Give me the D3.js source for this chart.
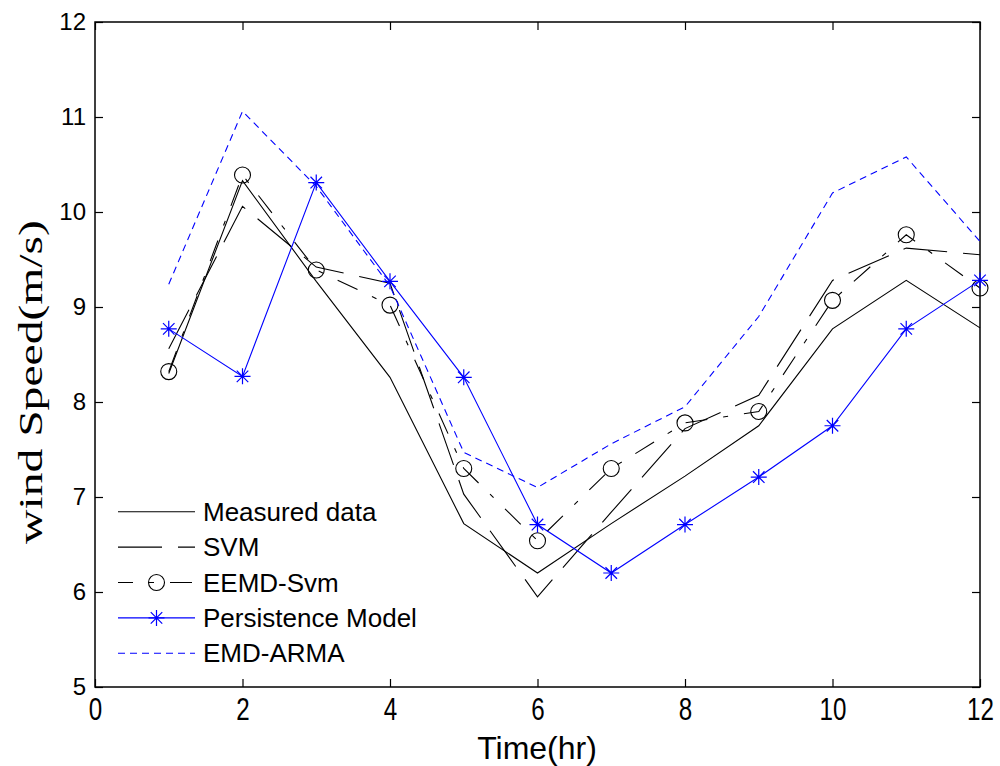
<!DOCTYPE html>
<head>
  <meta charset="utf-8">
  <style>
  body { margin: 0; background: #fff; }
  .axis line { stroke: #000; stroke-width: 1.2px; }
  .axis path { display: none; }
  .axis text { font-family: "Liberation Sans", Arial, sans-serif; fill: #000; }
  .frame { fill: none; stroke: #000; stroke-width: 1.5px; }
  </style>
  <script src="https://d3js.org/d3.v7.min.js"></script>
</head>
<body>
  <svg width="1000" height="766"></svg>
  <script>

  // values
  var hours = [1, 2, 3, 4, 5, 6, 7, 8, 9, 10, 11, 12];
  var measured    = [8.30, 10.33, 9.27, 8.26, 6.72, 6.20, 6.72, 7.22, 7.75, 8.77, 9.28, 8.78];
  var svmPred     = [8.56, 10.06, 9.42, 9.25, 7.03, 5.95, 6.84, 7.72, 8.07, 9.28, 9.62, 9.55];
  var eemdSvm     = [8.32, 10.39, 9.39, 9.02, 7.30, 6.54, 7.30, 7.78, 7.90, 9.07, 9.76, 9.20];
  var persistence = [8.77, 8.27, 10.31, 9.27, 8.26, 6.71, 6.20, 6.71, 7.21, 7.75, 8.77, 9.28];
  var emdArma     = [9.24, 11.06, 10.27, 9.22, 7.47, 7.10, 7.56, 7.95, 8.90, 10.20, 10.58, 9.69];

  var xTicks = [0, 2, 4, 6, 8, 10, 12];
  var yTicks = [5, 6, 7, 8, 9, 10, 11, 12];
  var names = ["Measured data", "SVM", "EEMD-Svm", "Persistence Model", "EMD-ARMA"];

  var series = [
    { name: names[0], values: measured,    color: "#000", dash: null,           marker: null },
    { name: names[1], values: svmPred,     color: "#000", dash: "44,16",        marker: null },
    { name: names[2], values: eemdSvm,     color: "#000", dash: "22,16,5,16",   marker: "circle" },
    { name: names[3], values: persistence, color: "#00f", dash: null,           marker: "star" },
    { name: names[4], values: emdArma,     color: "#00f", dash: "7,5",          marker: null }
  ];

  var svg = d3.select("svg"),
  plotLeft = 95, plotRight = 980, plotTop = 22, plotBottom = 687;

  var x = d3.scaleLinear().domain([0, 12]).range([plotLeft, plotRight]);
  var y = d3.scaleLinear().domain([5, 12]).range([plotBottom, plotTop]);

  // axes, ticks pointing inward on all four sides
  var xAxis = svg.append("g")
  .attr("class", "axis")
  .attr("transform", "translate(0," + plotBottom + ")")
  .call(d3.axisBottom(x).tickValues(xTicks).tickSizeInner(-8).tickSizeOuter(0).tickFormat(d3.format("d")));

  xAxis.selectAll("text")
  .attr("y", 33)
  .attr("dy", null)
  .style("font-size", "31px")
  .attr("transform", "scale(0.78,1)");

  svg.append("g")
  .attr("class", "axis")
  .attr("transform", "translate(0," + plotTop + ")")
  .call(d3.axisTop(x).tickValues(xTicks).tickSizeInner(-8).tickSizeOuter(0).tickFormat(""));

  svg.append("g")
  .attr("class", "axis")
  .attr("transform", "translate(" + plotLeft + ",0)")
  .call(d3.axisLeft(y).tickValues(yTicks).tickSizeInner(-8).tickSizeOuter(0).tickPadding(9).tickFormat(d3.format("d")))
  .selectAll("text")
  .style("font-size", "24px");

  svg.append("g")
  .attr("class", "axis")
  .attr("transform", "translate(" + plotRight + ",0)")
  .call(d3.axisRight(y).tickValues(yTicks).tickSizeInner(-8).tickSizeOuter(0).tickFormat(""));

  svg.append("rect")
  .attr("class", "frame")
  .attr("x", plotLeft)
  .attr("y", plotTop)
  .attr("width", plotRight - plotLeft)
  .attr("height", plotBottom - plotTop);

  // axis titles
  svg.append("text")
  .attr("transform", "translate(537,759)")
  .attr("text-anchor", "middle")
  .style("font-family", "'Liberation Sans', Arial, sans-serif")
  .style("font-size", "32px")
  .text("Time(hr)");

  svg.append("text")
  .attr("transform", "translate(42,382) rotate(-90) scale(1.4,1)")
  .attr("text-anchor", "middle")
  .style("font-family", "'Liberation Serif', 'Times New Roman', serif")
  .style("font-size", "34px")
  .text("wind Speed(m/s)");

  // asterisk marker: plus + cross
  function starPath(r) {
    var d = r * 0.72;
    return "M0," + (-r) + "V" + r + "M" + (-r) + ",0H" + r +
      "M" + (-d) + "," + (-d) + "L" + d + "," + d +
      "M" + (-d) + "," + d + "L" + d + "," + (-d);
  }

  var line = d3.line()
  .x(function(d, i) { return x(hours[i]); })
  .y(function(d) { return y(d); });

  var plot = svg.append("g");

  series.forEach(function(s) {
    plot.append("path")
    .attr("d", line(s.values))
    .attr("fill", "none")
    .attr("stroke", s.color)
    .attr("stroke-width", 1.1)
    .attr("stroke-dasharray", s.dash);

    if (s.marker == "circle") {
      plot.selectAll(null)
      .data(s.values)
      .enter().append("circle")
      .attr("cx", function(d, i) { return x(hours[i]); })
      .attr("cy", function(d) { return y(d); })
      .attr("r", 8)
      .attr("fill", "none")
      .attr("stroke", s.color)
      .attr("stroke-width", 1.1);
    }
    if (s.marker == "star") {
      plot.selectAll(null)
      .data(s.values)
      .enter().append("path")
      .attr("transform", function(d, i) { return "translate(" + x(hours[i]) + "," + y(d) + ")"; })
      .attr("d", starPath(8))
      .attr("fill", "none")
      .attr("stroke", s.color)
      .attr("stroke-width", 1.2);
    }
  });

  // legend, no box
  var legend = svg.append("g")
  .selectAll("g")
  .data(series)
  .enter().append("g")
  .attr("transform", function(d, i) { return "translate(0," + (511.7 + i * 35.4) + ")"; });

  legend.append("line")
  .attr("x1", 118)
  .attr("x2", 195)
  .attr("stroke", function(d) { return d.color; })
  .attr("stroke-width", 1.1)
  .attr("stroke-dasharray", function(d) { return d.dash; })
  .attr("stroke-dashoffset", function(d) { return d.marker == "circle" ? 7 : 0; });

  legend.filter(function(d) { return d.marker == "circle"; })
  .append("circle")
  .attr("cx", 156.5)
  .attr("r", 8)
  .attr("fill", "none")
  .attr("stroke", "#000")
  .attr("stroke-width", 1.1);

  legend.filter(function(d) { return d.marker == "star"; })
  .append("path")
  .attr("transform", "translate(156.5,0)")
  .attr("d", starPath(8))
  .attr("fill", "none")
  .attr("stroke", "#00f")
  .attr("stroke-width", 1.2);

  legend.append("text")
  .attr("x", 203)
  .attr("y", 9)
  .style("font-family", "'Liberation Sans', Arial, sans-serif")
  .style("font-size", "26px")
  .text(function(d) { return d.name; });

  </script>
</body>
